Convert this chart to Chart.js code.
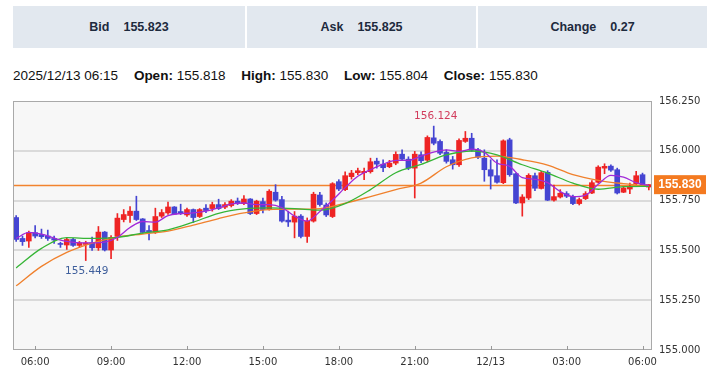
<!DOCTYPE html>
<html>
<head>
<meta charset="utf-8">
<script src="https://cdn.jsdelivr.net/npm/chart.js@4.4.1/dist/chart.umd.min.js"></script>
<style>
body{margin:0;background:#fff;width:720px;height:372px;overflow:hidden;position:relative;font-family:"Liberation Sans",Arial,sans-serif}
.quote{position:absolute;top:6px;height:42px;background:#e2e8ef;display:flex;align-items:center;justify-content:center;font-weight:bold;font-size:12.5px;color:#1d2a3d}
.quote span{margin-right:14px}
#info{position:absolute;left:13px;top:67px;line-height:18px;font-size:13.5px;color:#111;white-space:nowrap}
#info .it{margin-right:12px}
#wrap{position:absolute;left:0;top:88px;width:720px;height:284px}
</style>
</head>
<body>
<div class="quote" style="left:13px;width:232px"><span>Bid</span>155.823</div>
<div class="quote" style="left:247px;width:229px"><span>Ask</span>155.825</div>
<div class="quote" style="left:478px;width:229px"><span>Change</span>0.27</div>
<div id="info">
  <span class="it">2025/12/13 06:15</span>
  <span class="it"><b>Open:</b> 155.818</span>
  <span class="it"><b>High:</b> 155.830</span>
  <span class="it"><b>Low:</b> 155.804</span>
  <span><b>Close:</b> 155.830</span>
</div>
<div id="wrap"><canvas id="c"></canvas></div>
<script>
// 15-minute candles, 12/12 05:15 .. 12/13 06:15
const opens = [155.665,155.560,155.547,155.589,155.580,155.572,155.560,155.532,155.527,155.555,
155.525,155.530,155.538,155.513,155.592,155.502,155.570,155.655,155.675,155.697,
155.658,155.600,155.590,155.672,155.688,155.718,155.695,155.678,155.705,155.670,
155.712,155.710,155.730,155.717,155.725,155.747,155.735,155.758,155.685,155.745,
155.705,155.792,155.755,155.652,155.642,155.672,155.570,155.647,155.778,155.728,
155.670,155.845,155.805,155.870,155.890,155.890,155.895,155.948,155.933,155.920,
155.938,155.983,155.958,155.913,155.980,155.953,156.065,156.047,155.992,155.955,
155.930,156.047,156.063,156.005,155.963,155.905,155.875,155.840,156.055,155.885,
155.738,155.763,155.875,155.811,155.892,155.752,155.768,155.785,155.770,155.735,
155.760,155.788,155.842,155.913,155.923,155.905,155.792,155.808,155.835,155.880,
155.818];
const highs = [155.675,155.572,155.597,155.625,155.607,155.602,155.572,155.541,155.562,155.560,
155.545,155.546,155.567,155.620,155.595,155.575,155.685,155.705,155.720,155.772,
155.660,155.625,155.712,155.705,155.742,155.720,155.732,155.712,155.708,155.710,
155.730,155.742,155.757,155.740,155.755,155.763,155.775,155.760,155.752,155.763,
155.805,155.830,155.772,155.697,155.695,155.680,155.663,155.792,155.792,155.738,
155.840,155.855,155.895,155.902,155.913,155.913,155.963,155.963,155.955,155.952,
155.995,156.005,155.970,155.997,155.995,156.075,156.124,156.055,156.005,155.972,
156.060,156.097,156.088,156.013,156.005,155.955,155.955,156.055,156.063,155.890,
155.780,155.885,155.888,155.897,155.900,155.828,155.805,155.795,155.778,155.763,
155.795,155.850,155.925,155.935,155.930,155.913,155.820,155.838,155.897,155.888,
155.830];
const lows = [155.545,155.525,155.515,155.563,155.560,155.550,155.535,155.515,155.505,155.520,
155.515,155.449,155.500,155.500,155.497,155.458,155.550,155.643,155.640,155.650,
155.585,155.552,155.585,155.665,155.680,155.680,155.680,155.670,155.640,155.665,
155.690,155.697,155.705,155.710,155.718,155.730,155.730,155.680,155.680,155.688,
155.702,155.747,155.642,155.620,155.563,155.563,155.540,155.642,155.722,155.670,
155.665,155.800,155.800,155.858,155.880,155.855,155.888,155.913,155.895,155.915,
155.930,155.950,155.905,155.763,155.940,155.945,156.030,155.980,155.938,155.908,
155.922,156.042,155.997,155.960,155.847,155.808,155.838,155.835,155.872,155.735,
155.672,155.755,155.800,155.808,155.750,155.747,155.763,155.765,155.730,155.728,
155.755,155.785,155.838,155.885,155.897,155.783,155.790,155.785,155.830,155.822,
155.804];
const closes = [155.555,155.544,155.589,155.572,155.569,155.560,155.552,155.530,155.555,155.525,
155.538,155.537,155.513,155.592,155.502,155.565,155.662,155.680,155.697,155.655,
155.590,155.592,155.670,155.690,155.718,155.682,155.688,155.705,155.665,155.705,
155.700,155.730,155.710,155.730,155.747,155.735,155.758,155.685,155.747,155.705,
155.797,155.752,155.647,155.643,155.672,155.570,155.647,155.782,155.730,155.678,
155.835,155.808,155.875,155.888,155.900,155.897,155.945,155.933,155.915,155.938,
155.982,155.958,155.913,155.983,155.950,156.067,156.038,155.988,155.947,155.930,
156.052,156.063,156.003,155.968,155.905,155.873,155.842,156.050,155.880,155.738,
155.768,155.877,155.812,155.890,155.752,155.770,155.787,155.772,155.735,155.755,
155.785,155.840,155.918,155.922,155.903,155.788,155.813,155.818,155.875,155.825,
155.830];

// moving averages (fast: every 2nd candle, mid/slow: every 4th)
const maFast = [155.560,155.590,155.582,155.562,155.545,155.538,155.538,155.542,155.565,155.615,
155.645,155.642,155.675,155.685,155.688,155.697,155.713,155.733,155.738,155.730,
155.730,155.715,155.672,155.647,155.695,155.752,155.815,155.872,155.905,155.933,
155.952,155.952,155.973,155.993,156.005,155.997,156.008,155.993,155.938,155.922,
155.865,155.857,155.840,155.795,155.770,155.778,155.832,155.877,155.868,155.840,
155.826];
const maMid = [155.412,155.510,155.564,155.560,155.565,155.587,155.603,155.642,155.686,155.708,
155.713,155.710,155.702,155.735,155.805,155.890,155.932,155.979,155.999,155.980,
155.930,155.888,155.838,155.807,155.820,155.822];
const maSlow = [155.322,155.420,155.490,155.537,155.567,155.582,155.597,155.627,155.660,155.688,
155.705,155.707,155.710,155.737,155.770,155.805,155.838,155.920,155.965,155.973,
155.955,155.928,155.880,155.852,155.835,155.822];

const tickIdx = [3,15,27,39,51,63,75,87,99];
const tickLabels = ['06:00','09:00','12:00','15:00','18:00','21:00','12/13','03:00','06:00'];
const yTicks = [155.0,155.25,155.5,155.75,156.0,156.25];

const UP = '#ee2424', DOWN = '#4545d2';
const candleCol = opens.map((o,i)=> closes[i] >= o ? UP : DOWN);
const bodies = opens.map((o,i)=>({x:i, y:[o, closes[i]]}));
const wicks = lows.map((l,i)=>({x:i, y:[l, highs[i]]}));
const fastPts = maFast.map((v,k)=>({x:k*2, y:v}));
const midPts = maMid.map((v,k)=>({x:k*4, y:v}));
const slowPts = maSlow.map((v,k)=>({x:k*4, y:v}));

const axisFont = {family:'"DejaVu Sans", Verdana, sans-serif', size:10};

const decor = {
  id:'decor',
  beforeDraw(chart){
    const {ctx, chartArea:a} = chart;
    ctx.save();
    ctx.fillStyle = '#f7f7f7';
    ctx.fillRect(a.left, a.top, a.right-a.left, a.bottom-a.top);
    ctx.restore();
  },
  beforeDatasetsDraw(chart){
    const {ctx, chartArea:a, scales:{y}} = chart;
    const py = Math.round(y.getPixelForValue(closes[closes.length-1])) + 0.5;
    ctx.save();
    ctx.strokeStyle = '#f2832e';
    ctx.lineWidth = 1.5;
    ctx.beginPath(); ctx.moveTo(a.left, py); ctx.lineTo(a.right, py); ctx.stroke();
    ctx.restore();
  },
  afterDraw(chart){
    const {ctx, chartArea:a, scales:{x, y}} = chart;
    ctx.save();
    // frame
    ctx.strokeStyle = '#a9a9a9';
    ctx.lineWidth = 1;
    ctx.strokeRect(a.left+0.5, a.top+0.5, a.right-a.left-1, a.bottom-a.top-1);
    // x tick marks pointing up into the plot
    ctx.strokeStyle = '#999';
    tickIdx.forEach(v=>{
      const px = Math.round(x.getPixelForValue(v)) + 0.5;
      ctx.beginPath(); ctx.moveTo(px, a.bottom-4); ctx.lineTo(px, a.bottom); ctx.stroke();
    });
    // current price tag
    const last = closes[closes.length-1];
    const py = y.getPixelForValue(last);
    ctx.fillStyle = '#f47a20';
    ctx.fillRect(a.right+2, py-9.5, 52, 19);
    ctx.fillStyle = '#fff';
    ctx.font = 'bold 12px "Liberation Sans", Arial, sans-serif';
    ctx.textAlign = 'center';
    ctx.textBaseline = 'middle';
    ctx.fillText(last.toFixed(3), a.right+28, py+0.5);
    // session high / low
    const hi = Math.max(...highs), hiI = highs.indexOf(hi);
    const lo = Math.min(...lows), loI = lows.indexOf(lo);
    ctx.font = '10.5px "DejaVu Sans", Verdana, sans-serif';
    ctx.fillStyle = '#d23c5c';
    ctx.fillText(hi.toFixed(3), x.getPixelForValue(hiI)+2, y.getPixelForValue(hi)-10);
    ctx.fillStyle = '#3f5f9c';
    ctx.fillText(lo.toFixed(3), x.getPixelForValue(loI)+1, y.getPixelForValue(lo)+11);
    ctx.restore();
  }
};

new Chart(document.getElementById('c'), {
  type:'bar',
  data:{datasets:[
    {type:'line', data:fastPts, borderColor:'#a22ad8', borderWidth:1.3, pointRadius:0, cubicInterpolationMode:'monotone', order:0},
    {type:'line', data:midPts, borderColor:'#36b536', borderWidth:1.3, pointRadius:0, cubicInterpolationMode:'monotone', order:0},
    {type:'line', data:slowPts, borderColor:'#f0802c', borderWidth:1.3, pointRadius:0, cubicInterpolationMode:'monotone', order:0},
    {data:bodies, backgroundColor:candleCol, barThickness:5, minBarLength:1, grouped:false, order:1},
    {data:wicks, backgroundColor:candleCol, barThickness:1, grouped:false, order:2}
  ]},
  options:{
    responsive:true, maintainAspectRatio:false, animation:false,
    layout:{padding:{left:13, top:13, right:0, bottom:0}},
    plugins:{legend:{display:false}, tooltip:{enabled:false}},
    scales:{
      x:{type:'linear', min:-0.5, max:100.5, offset:false,
        afterBuildTicks(s){ s.ticks = tickIdx.map(v=>({value:v})) },
        afterFit(s){ s.height = 22 },
        grid:{display:false, drawTicks:false},
        border:{display:false},
        ticks:{autoSkip:false, maxRotation:0, padding:6, color:'#333', font:axisFont,
          callback:(v,i)=> tickLabels[i]}
      },
      y:{position:'right', min:155, max:156.25,
        afterBuildTicks(s){ s.ticks = yTicks.map(v=>({value:v})) },
        afterFit(s){ s.width = 68 },
        border:{display:false},
        grid:{drawTicks:false, lineWidth:2,
          color:c=> (c.tick && (c.tick.value===155 || c.tick.value===156.25)) ? 'rgba(0,0,0,0)' : '#dadada'},
        ticks:{padding:7, color:'#333', font:axisFont, callback:v=> Number(v).toFixed(3)}
      }
    }
  },
  plugins:[decor]
});
</script>
</body>
</html>
